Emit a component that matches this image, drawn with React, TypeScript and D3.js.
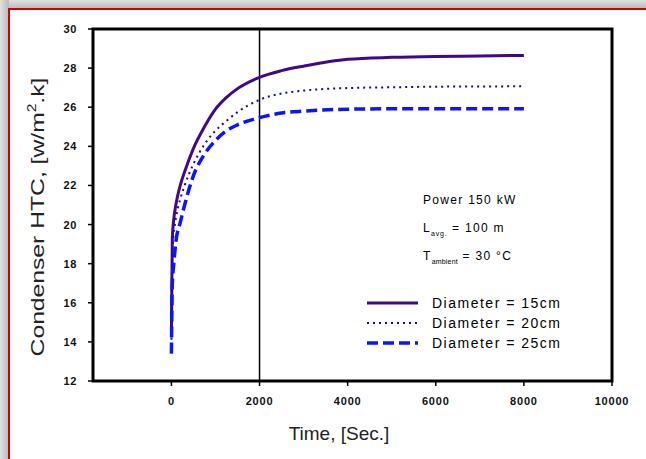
import React from "react";
import * as d3 from "d3";

const times = [0, 20, 50, 100, 200, 300, 500, 750, 1000, 1250, 1500, 2000, 2500, 3000, 4000, 5000, 6000, 7000, 8000];
const htc15 = [14.6, 19.3, 20.2, 21.0, 22.0, 22.7, 23.9, 25.0, 25.9, 26.5, 26.95, 27.53, 27.87, 28.1, 28.45, 28.55, 28.6, 28.62, 28.65];
const htc20 = [13.8, 18.7, 19.5, 20.3, 21.3, 22.0, 23.1, 24.1, 24.8, 25.3, 25.75, 26.38, 26.7, 26.85, 26.98, 27.02, 27.05, 27.06, 27.07];
const htc25 = [13.4, 17.0, 17.9, 19.1, 20.1, 21.0, 22.5, 23.6, 24.3, 24.8, 25.1, 25.47, 25.7, 25.8, 25.9, 25.92, 25.92, 25.92, 25.92];
const xTicks = [0, 2000, 4000, 6000, 8000, 10000];
const yTicks = [12, 14, 16, 18, 20, 22, 24, 26, 28, 30];
const seriesNames = ["Diameter = 15cm", "Diameter = 20cm", "Diameter = 25cm"];
const markerTime = 2000;

export default function App() {
  const W = 646, H = 459;
  const L = 93, R = 612, T = 29, B = 381;
  const x = d3.scaleLinear().domain([-1780, 10000]).range([L, R]);
  const y = d3.scaleLinear().domain([12, 30]).range([B, T]);
  const line = d3.line<number>().x((_, i) => x(times[i])).y((d) => y(d)).curve(d3.curveMonotoneX);
  const styles = [
    { stroke: "#3f0a8a", width: 3, dash: "" },
    { stroke: "#101090", width: 2, dash: "2 4" },
    { stroke: "#0a14ff", width: 3.5, dash: "11 5" },
  ];
  const data = [htc15, htc20, htc25];
  const font = "'Liberation Sans', Arial, sans-serif";
  return (
    <svg width={W} height={H} style={{ position: "fixed", left: 0, top: 0 }} fontFamily={font}>
      <defs>
        <linearGradient id="gt" x1="0" y1="0" x2="0" y2="1">
          <stop offset="0" stopColor="#e2e2e2" />
          <stop offset="1" stopColor="#b8b8b8" />
        </linearGradient>
        <linearGradient id="gl" x1="0" y1="0" x2="1" y2="0">
          <stop offset="0" stopColor="#e2e2e2" />
          <stop offset="1" stopColor="#b8b8b8" />
        </linearGradient>
      </defs>
      <rect x={0} y={0} width={W} height={H} fill="#fff" />
      <rect x={0} y={0} width={W} height={9} fill="url(#gt)" />
      <rect x={0} y={0} width={9} height={H} fill="url(#gl)" />
      <line x1={8} x2={W} y1={9} y2={9} stroke="#d40000" strokeWidth={2} />
      <line x1={9} x2={9} y1={8} y2={H} stroke="#d40000" strokeWidth={2} />

      {yTicks.map((t) => (
        <g key={"y" + t}>
          <line x1={L - 5} x2={L} y1={y(t)} y2={y(t)} stroke="#000" strokeWidth={1.5} />
          <text x={L - 16} y={y(t) + 4} fontSize={11} fontWeight="bold" letterSpacing={0.6} textAnchor="end" fill="#111">{t}</text>
        </g>
      ))}
      {xTicks.map((t) => (
        <g key={"x" + t}>
          <line x1={x(t)} x2={x(t)} y1={B} y2={B + 5} stroke="#000" strokeWidth={1.5} />
          <text x={x(t)} y={B + 24} fontSize={11} fontWeight="bold" letterSpacing={0.8} textAnchor="middle" fill="#111">{t}</text>
        </g>
      ))}

      <line x1={x(markerTime)} x2={x(markerTime)} y1={T} y2={B} stroke="#000" strokeWidth={1.5} />

      {data.map((d, i) => (
        <path key={i} d={line(d) || ""} fill="none" stroke={styles[i].stroke} strokeWidth={styles[i].width}
          strokeDasharray={styles[i].dash || undefined} />
      ))}

      <rect x={L} y={T} width={R - L} height={B - T} fill="none" stroke="#000" strokeWidth={3} />

      <text x={423} y={204} fontSize={12} letterSpacing={1.3} fill="#000">Power 150 kW</text>
      <text x={423} y={232} fontSize={12} letterSpacing={1.3} fill="#000">L<tspan fontSize={7} dy={4} letterSpacing={0.8}>avg.</tspan><tspan dy={-4}> = 100 m</tspan></text>
      <text x={423} y={260} fontSize={12} letterSpacing={1.3} fill="#000">T<tspan fontSize={7} dy={4} letterSpacing={0.2}>ambient</tspan><tspan dy={-4}> = 30 °C</tspan></text>

      {seriesNames.map((n, i) => (
        <g key={n}>
          <line x1={367} x2={418} y1={303 + i * 20} y2={303 + i * 20} stroke={styles[i].stroke}
            strokeWidth={styles[i].width} strokeDasharray={styles[i].dash || undefined} />
          <text x={432} y={308 + i * 20} fontSize={14} letterSpacing={1.5} fill="#000">{n}</text>
        </g>
      ))}

      <text transform={`translate(44,217) rotate(-90) scale(1.3,1)`} textAnchor="middle" fontSize={19} fill="#222">
        Condenser HTC, [w/m<tspan fontSize={12} dy={-8}>2</tspan><tspan dy={8}>.k]</tspan>
      </text>
      <text x={339} y={440} textAnchor="middle" fontSize={19} fill="#222">Time, [Sec.]</text>
    </svg>
  );
}
